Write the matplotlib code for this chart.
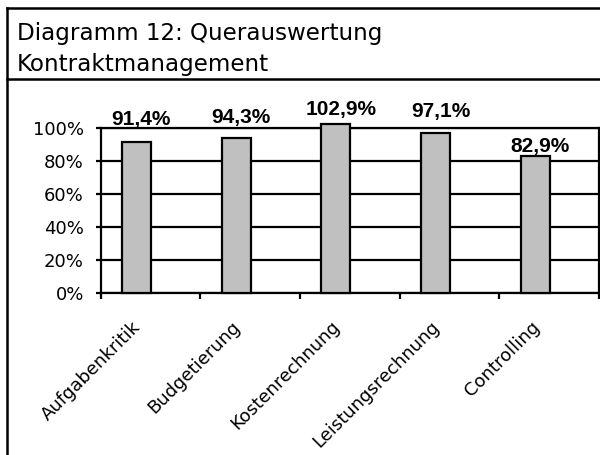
import numpy as np
import matplotlib
matplotlib.use('Agg')
import matplotlib.pyplot as plt
from matplotlib.lines import Line2D

# Daten
kategorien = ['Aufgabenkritik', 'Budgetierung', 'Kostenrechnung',
              'Leistungsrechnung', 'Controlling']
werte = [0.914, 0.943, 1.029, 0.971, 0.829]
wert_texte = ['91,4%', '94,3%', '102,9%', '97,1%', '82,9%']
y_ticks = [0, 0.2, 0.4, 0.6, 0.8, 1.0]
y_tick_texte = ['0%', '20%', '40%', '60%', '80%', '100%']
titel_zeilen = ['Diagramm 12: Querauswertung', 'Kontraktmanagement']

# Abstand der Beschriftung über dem Balken (Anteil der y-Achse)
label_abstand = [0.106, 0.089, 0.052, 0.098, 0.027]

plt.rcParams['font.family'] = ['DejaVu Sans']

W, H = 600, 455
fig = plt.figure(figsize=(W / 100, H / 100), dpi=100)
fig.patch.set_facecolor('white')

def fx(px):
    return px / W

def fy(py):
    return 1 - py / H

# Rahmen und Trennlinie
lw = 1.8
for xs, ys in [([7, 7], [7.5, 455]), ([7, 600], [7.5, 7.5]), ([7, 600], [79, 79])]:
    fig.add_artist(Line2D([fx(xs[0]), fx(xs[1])], [fy(ys[0]), fy(ys[1])],
                          color='black', lw=lw, solid_capstyle='projecting'))

# Titel
fig.text(fx(17), fy(40), titel_zeilen[0], fontsize=16.6, va='baseline', ha='left')
fig.text(fx(17), fy(71), titel_zeilen[1], fontsize=16.6, va='baseline', ha='left')

ax = fig.add_axes([fx(100.5), fy(292.7), (599 - 100.5) / W, 164.4 / H])
x = np.arange(len(kategorien))
ax.bar(x - 0.14, werte, width=0.29, color='#c0c0c0', edgecolor='black',
       linewidth=1.6, clip_on=False, zorder=3)

for i, v in enumerate(werte):
    ax.text(x[i] - 0.09, v + label_abstand[i], wert_texte[i], ha='center',
            va='baseline', fontsize=15, fontweight='bold',
            family=['Liberation Sans', 'DejaVu Sans'], clip_on=False)

ax.set_xlim(-0.5, len(kategorien) - 0.5)
ax.set_ylim(0, 1)
ax.set_yticks(y_ticks)
ax.set_yticklabels(y_tick_texte, fontsize=13)
ax.tick_params(axis='y', direction='out', length=3.6, width=1.6, pad=8.4)

ax.set_xticks(np.arange(-0.5, len(kategorien)))
ax.set_xticklabels([])
ax.tick_params(axis='x', which='major', direction='out', length=4.3, width=1.6)
ax.set_xticks(x - 0.19, minor=True)
ax.set_xticklabels(kategorien, minor=True, rotation=45, ha='right',
                   rotation_mode='anchor', fontsize=13)
ax.tick_params(axis='x', which='minor', length=0, pad=18)

ax.grid(axis='y', color='black', linewidth=1.6, zorder=1)
ax.set_axisbelow(True)
for s in ax.spines.values():
    s.set_linewidth(1.6)

fig.savefig('out.png', dpi=100)
